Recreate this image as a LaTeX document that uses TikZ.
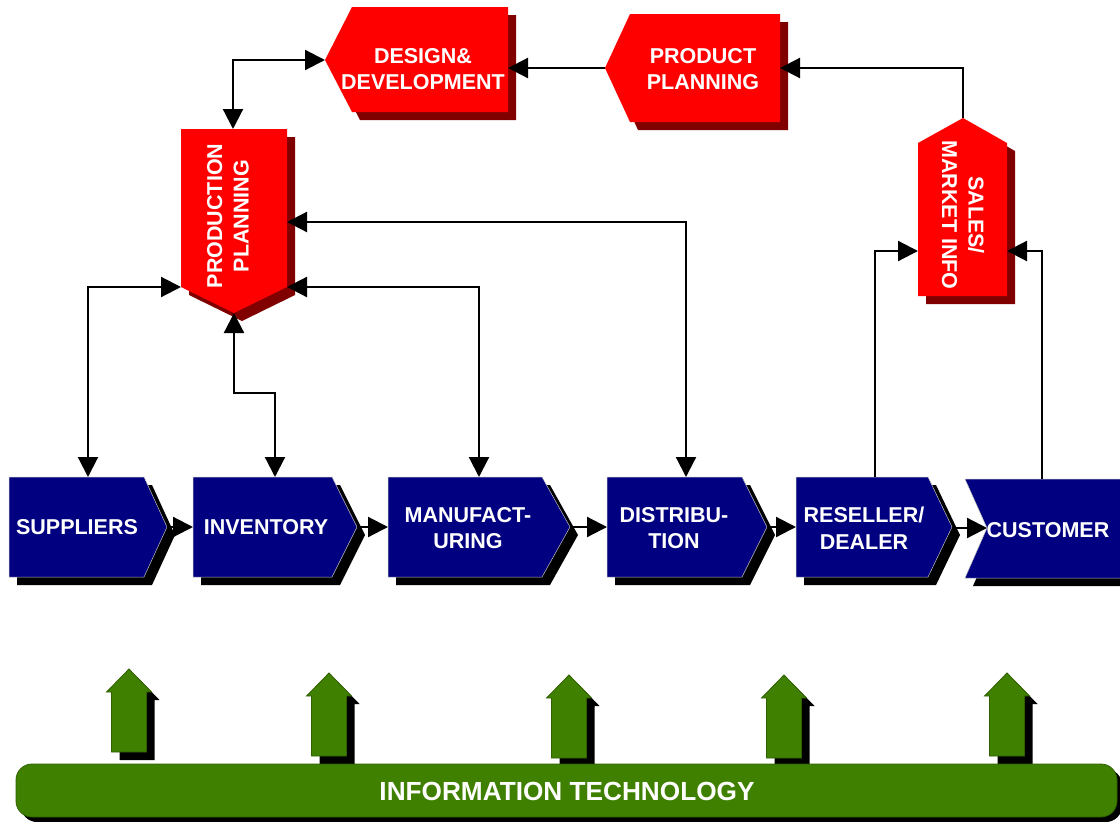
\documentclass[tikz,border=0pt]{standalone}
\usepackage{fontspec}
\setmainfont{Liberation Sans}
\usepackage{tikz}
\usetikzlibrary{calc}
\usetikzlibrary{positioning}
\usetikzlibrary{arrows.meta}

\definecolor{boxred}{RGB}{255,0,0}
\definecolor{shadowred}{RGB}{128,0,0}
\definecolor{boxblue}{RGB}{0,0,128}
\definecolor{itgreen}{RGB}{64,128,0}

\tikzset{
  redbox/.style={fill=boxred},
  redshadow/.style={fill=shadowred},
  bluebox/.style={fill=boxblue,draw=gray!50,line width=0.5pt},
  blackshadow/.style={fill=black},
  greenbox/.style={fill=itgreen,draw=itgreen!75!black,line width=0.8pt},
  lbl/.style={text=white,font=\bfseries\fontsize{21.5}{26.5}\selectfont,align=center,inner sep=0pt},
  link/.style={line width=2.2pt,-{Triangle[length=20pt,width=20pt]}},
  twolink/.style={line width=2.2pt,{Triangle[length=20pt,width=20pt]}-{Triangle[length=20pt,width=20pt]}}
}

\begin{document}
\begin{tikzpicture}[x=1pt,y=-1pt]
      \useasboundingbox (0,0) rectangle (1120,822);

      % planning boxes (red)
      \fill[redshadow,shift={(8,8)}] (352,7) -- (508,7) -- (508,112) -- (352,112) -- (325,60) -- cycle;
      \fill[redbox] (352,7) -- (508,7) -- (508,112) -- (352,112) -- (325,60) -- cycle;
      \fill[redshadow,shift={(8,8)}] (630,14) -- (780,14) -- (780,122) -- (630,122) -- (605,68) -- cycle;
      \fill[redbox] (630,14) -- (780,14) -- (780,122) -- (630,122) -- (605,68) -- cycle;
      \fill[redshadow,shift={(8,8)}] (181,129) -- (287,129) -- (287,287) -- (234,313) -- (181,287) -- cycle;
      \fill[redbox] (181,129) -- (287,129) -- (287,287) -- (234,313) -- (181,287) -- cycle;
      \fill[redshadow,shift={(8,8)}] (963,118) -- (1007,143) -- (1007,296) -- (918,296) -- (918,143) -- cycle;
      \fill[redbox] (963,118) -- (1007,143) -- (1007,296) -- (918,296) -- (918,143) -- cycle;

      % supply chain (blue)
      \fill[blackshadow,shift={(8,8)}] (9,477) -- (144,477) -- (167,527) -- (144,577) -- (9,577) -- cycle;
      \filldraw[bluebox] (9,477) -- (144,477) -- (167,527) -- (144,577) -- (9,577) -- cycle;
      \fill[blackshadow,shift={(8,8)}] (193,477) -- (332,477) -- (357,527) -- (332,577) -- (193,577) -- cycle;
      \filldraw[bluebox] (193,477) -- (332,477) -- (357,527) -- (332,577) -- (193,577) -- cycle;
      \fill[blackshadow,shift={(8,8)}] (388,477) -- (542,477) -- (570,527) -- (542,577) -- (388,577) -- cycle;
      \filldraw[bluebox] (388,477) -- (542,477) -- (570,527) -- (542,577) -- (388,577) -- cycle;
      \fill[blackshadow,shift={(8,8)}] (607,477) -- (742,477) -- (767,527) -- (742,577) -- (607,577) -- cycle;
      \filldraw[bluebox] (607,477) -- (742,477) -- (767,527) -- (742,577) -- (607,577) -- cycle;
      \fill[blackshadow,shift={(8,8)}] (796,477) -- (928,477) -- (952,527) -- (928,577) -- (796,577) -- cycle;
      \filldraw[bluebox] (796,477) -- (928,477) -- (952,527) -- (928,577) -- (796,577) -- cycle;
      \fill[blackshadow,shift={(8,8)}] (965,479) -- (1130,479) -- (1130,578) -- (965,578) -- (987,528) -- cycle;
      \filldraw[bluebox] (965,479) -- (1130,479) -- (1130,578) -- (965,578) -- (987,528) -- cycle;

      % IT arrows (green)
      \fill[blackshadow,shift={(137,677)}] (0,0) -- (22.5,23) -- (17.5,23) -- (17.5,83) -- (-17.5,83) -- (-17.5,23) -- (-22.5,23) -- cycle;
      \filldraw[greenbox,shift={(129,669)}] (0,0) -- (22.5,23) -- (17.5,23) -- (17.5,83) -- (-17.5,83) -- (-17.5,23) -- (-22.5,23) -- cycle;
      \fill[blackshadow,shift={(337,681)}] (0,0) -- (22.5,23) -- (17.5,23) -- (17.5,83) -- (-17.5,83) -- (-17.5,23) -- (-22.5,23) -- cycle;
      \filldraw[greenbox,shift={(329,673)}] (0,0) -- (22.5,23) -- (17.5,23) -- (17.5,83) -- (-17.5,83) -- (-17.5,23) -- (-22.5,23) -- cycle;
      \fill[blackshadow,shift={(577,683)}] (0,0) -- (22.5,23) -- (17.5,23) -- (17.5,83) -- (-17.5,83) -- (-17.5,23) -- (-22.5,23) -- cycle;
      \filldraw[greenbox,shift={(569,675)}] (0,0) -- (22.5,23) -- (17.5,23) -- (17.5,83) -- (-17.5,83) -- (-17.5,23) -- (-22.5,23) -- cycle;
      \fill[blackshadow,shift={(792,683)}] (0,0) -- (22.5,23) -- (17.5,23) -- (17.5,83) -- (-17.5,83) -- (-17.5,23) -- (-22.5,23) -- cycle;
      \filldraw[greenbox,shift={(784,675)}] (0,0) -- (22.5,23) -- (17.5,23) -- (17.5,83) -- (-17.5,83) -- (-17.5,23) -- (-22.5,23) -- cycle;
      \fill[blackshadow,shift={(1015,681)}] (0,0) -- (22.5,23) -- (17.5,23) -- (17.5,83) -- (-17.5,83) -- (-17.5,23) -- (-22.5,23) -- cycle;
      \filldraw[greenbox,shift={(1007,673)}] (0,0) -- (22.5,23) -- (17.5,23) -- (17.5,83) -- (-17.5,83) -- (-17.5,23) -- (-22.5,23) -- cycle;

      % IT bar
      \fill[blackshadow,rounded corners=16pt] (21,769) rectangle (1122,822);
      \filldraw[greenbox,rounded corners=16pt] (16,764) rectangle (1117,817);

      % labels
      \node[lbl] (des) at (423,69) {DESIGN\&\\DEVELOPMENT};
      \node[lbl] (pro) at (703,69) {PRODUCT\\PLANNING};
      \node[lbl,rotate=90] (ppl) at (228,216) {PRODUCTION\\PLANNING};
      \node[lbl,rotate=-90] (sal) at (963,215) {SALES/\\MARKET INFO};
      \node[lbl] (sup) at (77,527) {SUPPLIERS};
      \node[lbl] (inv) at (266,527) {INVENTORY};
      \node[lbl] (man) at (468,528) {MANUFACT-\\URING};
      \node[lbl] (dis) at (674,528) {DISTRIBU-\\TION};
      \node[lbl] (res) at (864,528) {RESELLER/\\DEALER};
      \node[lbl] (cus) at (1048,530) {CUSTOMER};
      \node[lbl,font=\bfseries\fontsize{26.2}{30}\selectfont] (it) at (567,791) {INFORMATION TECHNOLOGY};

      % connection points
      \coordinate (des-w) at (325,60);
      \coordinate (des-e) at (508,68);
      \coordinate (pro-w) at (605,68);
      \coordinate (pro-e) at (780,68);
      \coordinate (ppl-n) at (233,129);
      \coordinate (ppl-w) at (181,287);
      \coordinate (ppl-e1) at (287,222);
      \coordinate (ppl-e2) at (287,287);
      \coordinate (ppl-s) at (234,313);
      \coordinate (inv-bend) at (234,393);
      \coordinate (sal-n) at (963,118);
      \coordinate (sal-w) at (918,251);
      \coordinate (sal-e) at (1007,251);
      \coordinate (sup-n) at (88,477);
      \coordinate (sup-e) at (167,527);
      \coordinate (inv-n) at (275,477);
      \coordinate (inv-w) at (193,527);
      \coordinate (inv-e) at (357,527);
      \coordinate (man-n) at (479,477);
      \coordinate (man-w) at (388,527);
      \coordinate (man-e) at (570,527);
      \coordinate (dis-n) at (686,477);
      \coordinate (dis-w) at (607,527);
      \coordinate (dis-e) at (767,527);
      \coordinate (res-n) at (875,477);
      \coordinate (res-w) at (796,527);
      \coordinate (res-e) at (952,528);
      \coordinate (cus-n) at (1042,479);
      \coordinate (cus-w) at (987,528);

      % connectors
      \draw[link] (pro-w) -- (des-e);
      \draw[link] (sal-n) |- (pro-e);
      \draw[twolink] (des-w) -| (ppl-n);
      \draw[twolink] (ppl-e1) -| (dis-n);
      \draw[twolink] (ppl-e2) -| (man-n);
      \draw[twolink] (ppl-w) -| (sup-n);
      \draw[twolink] (ppl-s) -- (inv-bend) -| (inv-n);
      \draw[link] (res-n) |- (sal-w);
      \draw[link] (cus-n) |- (sal-e);

      \draw[link] (sup-e) -- (inv-w);
      \draw[link] (inv-e) -- (man-w);
      \draw[link] (man-e) -- (dis-w);
      \draw[link] (dis-e) -- (res-w);
      \draw[link] (res-e) -- (cus-w);
    \end{tikzpicture}
\end{document}
